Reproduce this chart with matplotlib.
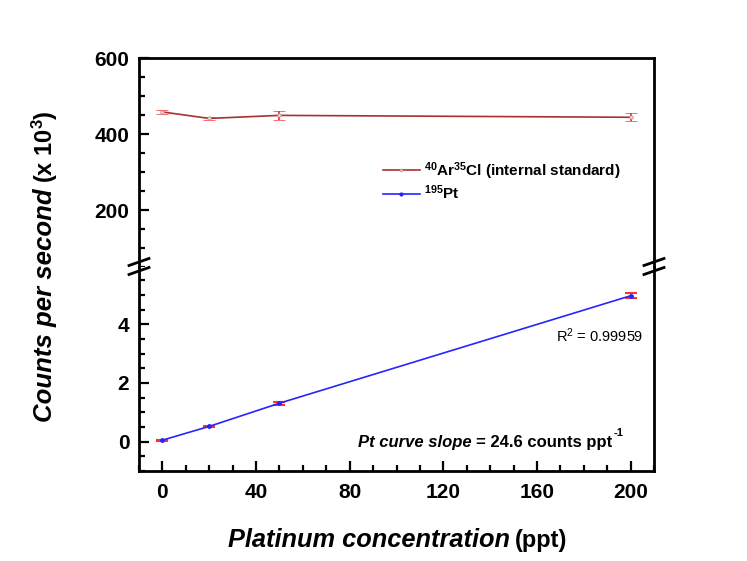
import matplotlib
matplotlib.use("Agg")
import matplotlib.pyplot as plt
from matplotlib.ticker import MultipleLocator
from matplotlib.lines import Line2D

plt.rcParams['font.family'] = ['Liberation Sans', 'DejaVu Sans']
plt.rcParams['mathtext.default'] = 'regular'

# Data
conc = [0, 20, 50, 200]
ar_counts = [458, 441, 449, 444]
ar_err = [6, 5, 12, 11]
pt_counts = [0.05, 0.52, 1.31, 4.97]
pt_err = [0.02, 0.03, 0.05, 0.09]

ar_label = r'$^{40}$Ar$^{35}$Cl (internal standard)'
pt_label = r'$^{195}$Pt'

W, H = 747, 561
fig = plt.figure(figsize=(W / 100, H / 100), dpi=100)

left, right = 139 / W, 654 / W
y_top, y_mid, y_bot = 58, 267, 471
ax_top = fig.add_axes([left, 1 - y_mid / H, right - left, (y_mid - y_top) / H])
ax_bot = fig.add_axes([left, 1 - y_bot / H, right - left, (y_bot - y_mid) / H], sharex=ax_top)

ar_color = '#a83232'
pt_color = '#2525ff'
err_color = '#ff3030'

ax_top.errorbar(conc, ar_counts, yerr=ar_err, color=ar_color, lw=1.2,
                marker='o', ms=2.5, mfc='#e0e0e0', mec='#c08080', mew=0.5,
                ecolor=err_color, elinewidth=1.3, capsize=4, capthick=1.5,
                label=ar_label)
ax_bot.errorbar(conc, pt_counts, yerr=pt_err, color=pt_color, lw=1.2,
                marker='o', ms=2.5, mfc=pt_color, mec=pt_color,
                ecolor=err_color, elinewidth=1.3, capsize=4, capthick=1.5,
                label=pt_label)

ax_top.set_ylim(50, 600)
ax_bot.set_ylim(-1, 5.95)
ax_bot.set_xlim(-10, 210)

ax_top.yaxis.set_major_locator(MultipleLocator(200))
ax_top.yaxis.set_minor_locator(MultipleLocator(50))
ax_bot.yaxis.set_major_locator(MultipleLocator(2))
ax_bot.yaxis.set_minor_locator(MultipleLocator(0.5))
ax_bot.xaxis.set_major_locator(MultipleLocator(40))
ax_bot.xaxis.set_minor_locator(MultipleLocator(10))

for ax in (ax_top, ax_bot):
    for s in ax.spines.values():
        s.set_linewidth(2.0)
    ax.tick_params(which='major', direction='in', length=7, width=1.6,
                   labelsize=15, pad=7)
    ax.tick_params(which='minor', direction='in', length=4.5, width=1.6)
    ax.tick_params(axis='y', right=False, which='both')
    ax.tick_params(axis='x', top=False, which='both')

ax_bot.tick_params(axis='x', which='major', pad=9)
ax_top.spines['bottom'].set_visible(False)
ax_bot.spines['top'].set_visible(False)
ax_top.tick_params(axis='x', which='both', bottom=False, labelbottom=False)
for ax in (ax_top, ax_bot):
    for lab in ax.get_yticklabels() + ax.get_xticklabels():
        lab.set_fontweight('bold')

# Break marks
def slashes(xf):
    for dy in (-5, 4):
        yc = 1 - (y_mid + dy) / H
        fig.add_artist(Line2D([xf - 10 / W, xf + 10 / W], [yc - 3.5 / H, yc + 3.5 / H],
                              transform=fig.transFigure, color='black', lw=2.0))
slashes(left)
slashes(right)

# Legend
hs = [Line2D([], [], color=ar_color, lw=1.2, marker='o', ms=2, mfc='#e0e0e0', mec='#c08080', mew=0.5),
      Line2D([], [], color=pt_color, lw=1.2, marker='o', ms=2, mfc=pt_color, mec=pt_color)]
ax_top.legend(hs, [ar_label, pt_label], loc='upper left',
              bbox_to_anchor=((383 - 139) / 515, (267 - 160) / 209),
              frameon=False, borderpad=0, borderaxespad=0, handlelength=2.4,
              handletextpad=0.3, labelspacing=0.15,
              prop={'weight': 'bold', 'size': 11})

# Annotations
fig.text(556 / W, 1 - 336 / H, r'R$^2$ = 0.99959', fontsize=10.5, ha='left', va='center')
fig.text(472 / W, 1 - 443 / H, 'Pt curve slope', fontsize=12, fontweight='bold',
         fontstyle='italic', ha='right', va='center')
t2 = fig.text(476 / W, 1 - 443 / H, '= 24.6 counts ppt', fontsize=12, fontweight='bold',
              ha='left', va='center')
fig.canvas.draw()
bb = t2.get_window_extent()
fig.text(bb.x1 / W + 1 / W, bb.y1 / H - 3 / H, '-1', fontsize=8, fontweight='bold',
         ha='left', va='bottom')

# Axis labels
fig.text(510 / W, 1 - 540 / H, 'Platinum concentration', fontsize=18.3, fontweight='bold',
         fontstyle='italic', ha='right', va='center')
fig.text(515 / W, 1 - 540 / H, '(ppt)', fontsize=17, fontweight='bold',
         ha='left', va='center')
fig.text(45 / W, 1 - 188 / H, 'Counts per second', fontsize=18.5, fontweight='bold',
         fontstyle='italic', ha='center', va='top', rotation=90)
fig.text(45 / W, 1 - 183 / H, r'(x 10$^3$)', fontsize=17, fontweight='bold',
         ha='center', va='bottom', rotation=90)

fig.savefig('out.png', dpi=100, facecolor='white')
